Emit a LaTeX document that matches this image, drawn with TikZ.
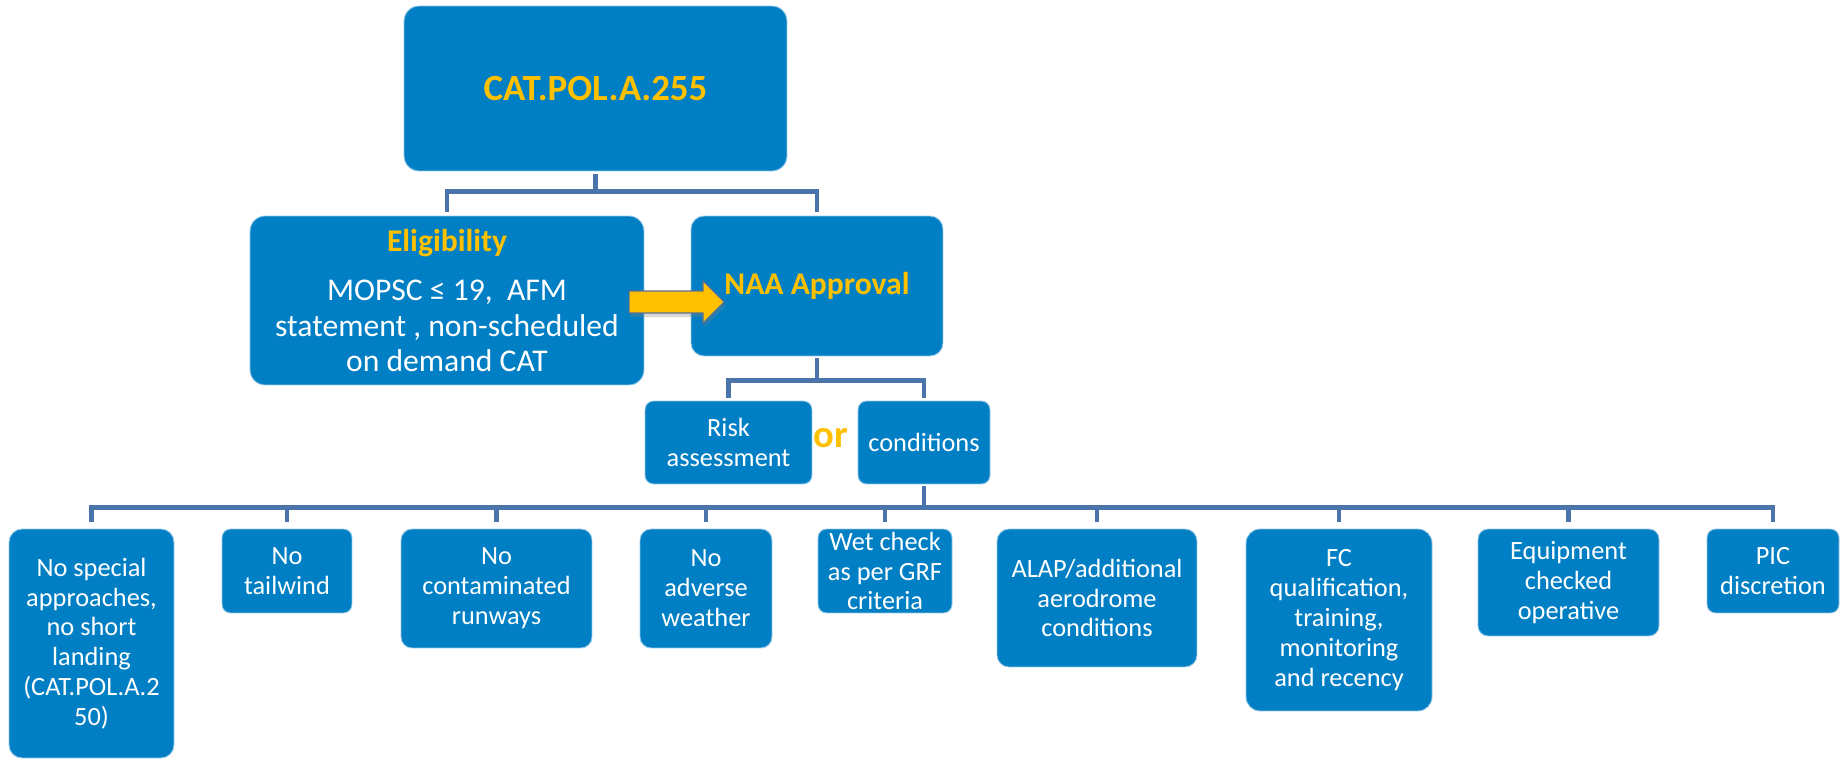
\documentclass[tikz,border=0pt]{standalone}
\usepackage{fontspec}
\setmainfont{Carlito}
\usetikzlibrary{shapes.arrows,shadows}
\definecolor{boxblue}{RGB}{0,127,196}
\definecolor{boxedge}{RGB}{150,200,232}
\definecolor{linkblue}{RGB}{74,116,170}
\definecolor{gold}{RGB}{255,192,0}
\definecolor{goldedge}{RGB}{88,110,150}

\begin{document}
\begin{tikzpicture}[x=0.02cm, y=-0.02cm,
  blk/.style={fill=boxblue, draw=boxedge, line width=0.5pt, text=white, align=center,
    inner sep=0pt, rounded corners=#1, font=\fontsize{15}{17}\selectfont},
  blk/.default=0.17cm,
  link/.style={draw=linkblue, line width=2.8pt},
  drop/.style={link, shorten >=#1},
  drop/.default=0.08cm,
  head/.style={text=gold, font=\fontsize{18}{20}\selectfont\bfseries}]
  \useasboundingbox (0,0) rectangle (1848,760);
  % upper part
  \node[blk=0.30cm, minimum width=7.66cm, minimum height=3.30cm,
    text=gold, font=\fontsize{21}{25}\selectfont\bfseries] (top) at (595.5,88.5) {CAT.POL.A.255};
  \node[blk=0.30cm, minimum width=7.88cm, minimum height=3.38cm,
    font=\fontsize{18}{20}\selectfont] (elig) at (447,300.5)
    {{\color{gold}\bfseries Eligibility}\\[8pt]
     MOPSC ≤ 19,\ \ AFM\\statement , non-scheduled\\on demand CAT};
  \node[blk=0.26cm, minimum width=5.04cm, minimum height=2.80cm, head] (naa) at (817,286) {NAA Approval};
  \node[single arrow, fill=gold, draw=goldedge, line width=0.6pt, inner sep=0.21cm,
    minimum height=1.9cm, single arrow head extend=0.2cm,
    drop shadow={shadow xshift=0.03cm, shadow yshift=-0.08cm, opacity=0.3}] (push) at (671,302) {};
  \node[blk, minimum width=3.34cm, minimum height=1.66cm] (risk) at (728.5,442.5) {Risk\\assessment};
  \node[text=gold, font=\fontsize{22}{24}\selectfont\bfseries] (or) at (831,438) {or};
  \node[blk, minimum width=2.64cm, minimum height=1.66cm] (cond) at (924,442.5) {conditions};
  % conditions
  \node[blk=0.26cm, minimum width=3.30cm, minimum height=4.58cm] (c1) at (91.5,643.5)
    {No special\\approaches,\\no short\\landing\\(CAT.POL.A.2\\50)};
  \node[blk, minimum width=2.60cm, minimum height=1.68cm] (c2) at (287,571) {No\\tailwind};
  \node[blk=0.22cm, minimum width=3.82cm, minimum height=2.38cm] (c3) at (496.5,588.5) {No\\contaminated\\runways};
  \node[blk=0.22cm, minimum width=2.64cm, minimum height=2.38cm] (c4) at (706,588.5) {No\\adverse\\weather};
  \node[blk, minimum width=2.68cm, minimum height=1.68cm] (c5) at (885,571) {Wet check\\as per GRF\\criteria};
  \node[blk=0.24cm, minimum width=4.00cm, minimum height=2.76cm] (c6) at (1097,598) {ALAP/additional\\aerodrome\\conditions};
  \node[blk=0.28cm, minimum width=3.72cm, minimum height=3.64cm] (c7) at (1339,620)
    {FC\\qualification,\\training,\\monitoring\\and recency};
  \node[blk=0.2cm, minimum width=3.62cm, minimum height=2.14cm] (c8) at (1568.5,582.5) {Equipment\\checked\\operative};
  \node[blk, minimum width=2.64cm, minimum height=1.68cm] (c9) at (1773,571) {PIC\\discretion};
  % connectors
  \path (top.south) ++(0,20) coordinate (bus1);
  \path (naa.south) ++(0,24) coordinate (bus2);
  \path (cond.south) ++(0,23) coordinate (bus3);
  \draw[link, shorten <=0.06cm] (top.south) -- (bus1);
  \draw[drop] (bus1) -| (elig.north);
  \draw[drop] (bus1) -| (naa.north);
  \draw[link, shorten <=0.04cm] (naa.south) -- (bus2);
  \draw[drop=0.06cm] (bus2) -| (risk.north);
  \draw[drop=0.06cm] (bus2) -| (cond.north);
  \draw[link, shorten <=0.04cm] (cond.south) -- (bus3);
  \foreach \k in {1,...,9}
    \draw[drop=0.14cm] (bus3) -| (c\k.north);
\end{tikzpicture}
\end{document}
